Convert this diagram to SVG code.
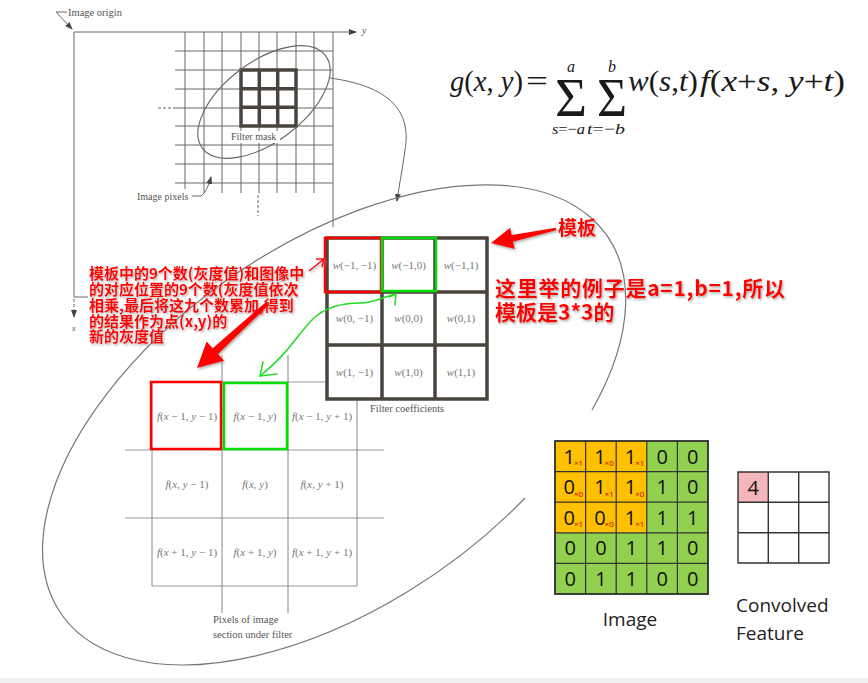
<svg xmlns="http://www.w3.org/2000/svg" width="868" height="683" viewBox="0 0 868 683">
<defs>
<style>
.bk{font-family:"Liberation Serif",serif;fill:#555}
.ln{stroke:#666;stroke-width:1;fill:none}
.lg{stroke:#9a9a9a;stroke-width:1.2;fill:none}
.it{font-style:italic}
.red{font-family:"Noto Sans CJK SC","Noto Sans",sans-serif;font-weight:bold;fill:#ff0000}
.wl{font-family:"Liberation Serif",serif;font-size:11px;fill:#777;text-anchor:middle}
.fl{font-family:"Liberation Serif",serif;font-size:11px;fill:#777;text-anchor:middle}
.num{font-family:"Open Sans","Liberation Sans",sans-serif;font-size:20px;fill:#111;text-anchor:middle}
.sub{font-family:"Open Sans","Liberation Sans",sans-serif;font-size:8px;fill:#c00000}
.lab{font-family:"Open Sans","Liberation Sans",sans-serif;font-size:19px;fill:#222}
.thick{stroke:#49443e;stroke-width:3.5;fill:none}
</style>
<marker id="ab" markerUnits="userSpaceOnUse" markerWidth="8" markerHeight="6" refX="7" refY="3" orient="auto"><path d="M0,0 L8,3 L0,6 z" fill="#444"/></marker>
<filter id="sh" x="-10%" y="-10%" width="120%" height="130%"><feDropShadow dx="1.2" dy="1.5" stdDeviation="0.9" flood-color="#888" flood-opacity="0.7"/></filter>
</defs>
<rect width="868" height="683" fill="#fff"/>
<rect y="678" width="868" height="5" fill="#f1f1f1"/>

<g id="image-frame">
<path class="ln" d="M74,32 H356" marker-end="url(#ab)"/>
<text class="bk it" x="362" y="34" font-size="10">y</text>
<path class="ln" d="M74,32 V297 H88"/>
<path class="ln" d="M333,32 V260"/>
<path class="ln" d="M74,299 V317" stroke-dasharray="3,2" marker-end="url(#ab)"/>
<text class="bk it" x="72" y="331" font-size="8">x</text>
<path class="ln" d="M67,12 H56 L72,29" marker-end="url(#ab)"/>
<text class="bk" x="68" y="16" font-size="10.5">Image origin</text>
</g>

<g id="image-pixels">
<path class="ln" d="M185,32V193M204,32V193M222,32V193M241,32V193M259,32V193M277,32V193M296,32V193M314,32V193M175,51H333M175,70H333M175,89H333M175,108H333M175,126H333M175,145H333M175,164H333M175,183H333"/>
<path class="ln" d="M158,108H175M258,195V216" stroke-dasharray="3,2"/>
<rect x="136" y="189" width="55" height="13" fill="#fff"/>
<text class="bk" x="137" y="200" font-size="10">Image pixels</text>
<path class="ln" d="M192,196 H201 Q207,192 211,177" marker-end="url(#ab)"/>
</g>

<g id="filter-mask">
<rect x="241" y="70" width="55" height="56" fill="#fff"/>
<path class="thick" d="M241,70H296V126H241Z M259.3,70V126 M277.7,70V126 M241,88.7H296 M241,107.3H296"/>
<ellipse cx="264" cy="102" rx="77" ry="40" transform="rotate(-37 264 102)" fill="none" stroke="#666" stroke-width="1.1"/>
<rect x="230" y="131" width="50" height="12" fill="#fff"/>
<text class="bk" x="231" y="140" font-size="10">Filter mask</text>
</g>

<g id="connectors">
<path class="ln" d="M330,78 C388,86 412,110 405,150 C402,172 399,186 397,201" marker-end="url(#ab)"/>
</g>

<g id="zoom-ellipse">
<ellipse cx="333" cy="432" rx="332" ry="180" transform="rotate(-34.7 333 432)" fill="#fff"/>
<path d="M525,498 A332,180 -34.7 1 1 592,410" fill="none" stroke="#777" stroke-width="1.2"/>
</g>

<g id="formula" font-family="'Liberation Serif',serif" fill="#1a1a1a">
<text x="450" y="91" font-size="29" textLength="73" lengthAdjust="spacingAndGlyphs"><tspan font-style="italic">g</tspan>(<tspan font-style="italic">x</tspan>, <tspan font-style="italic">y</tspan>)</text>
<text x="526" y="91" font-size="29" textLength="22" lengthAdjust="spacingAndGlyphs">=</text>
<text x="555" y="116" font-size="55" textLength="32" lengthAdjust="spacingAndGlyphs">Σ</text>
<text x="597" y="116" font-size="55" textLength="30" lengthAdjust="spacingAndGlyphs">Σ</text>
<text x="571" y="72" font-size="16" font-style="italic" text-anchor="middle">a</text>
<text x="612" y="72" font-size="16" font-style="italic" text-anchor="middle">b</text>
<text x="552" y="134" font-size="15" textLength="33" lengthAdjust="spacingAndGlyphs"><tspan font-style="italic">s</tspan>=−<tspan font-style="italic">a</tspan></text>
<text x="587" y="134" font-size="15" textLength="38" lengthAdjust="spacingAndGlyphs"><tspan font-style="italic">t</tspan>=−<tspan font-style="italic">b</tspan></text>
<text x="628" y="91" font-size="29" textLength="70" lengthAdjust="spacingAndGlyphs"><tspan font-style="italic">w</tspan>(<tspan font-style="italic">s</tspan>,<tspan font-style="italic">t</tspan>)</text>
<text x="700" y="91" font-size="29" textLength="145" lengthAdjust="spacingAndGlyphs"><tspan font-style="italic">f</tspan>(<tspan font-style="italic">x</tspan>+<tspan font-style="italic">s</tspan>, <tspan font-style="italic">y</tspan>+<tspan font-style="italic">t</tspan>)</text>
</g>

<g id="image-section">
<path class="lg" d="M152,382H357M125,450H384M125,518H384M152,586H357M152,382V586M357,382V586M222,355V613M288,355V613"/>
<text class="fl" x="187" y="420"><tspan class="it">f</tspan>(<tspan class="it">x</tspan> − 1, <tspan class="it">y</tspan> − 1)</text>
<text class="fl" x="255" y="420"><tspan class="it">f</tspan>(<tspan class="it">x</tspan> − 1, <tspan class="it">y</tspan>)</text>
<text class="fl" x="322" y="420"><tspan class="it">f</tspan>(<tspan class="it">x</tspan> − 1, <tspan class="it">y</tspan> + 1)</text>
<text class="fl" x="187" y="488"><tspan class="it">f</tspan>(<tspan class="it">x</tspan>, <tspan class="it">y</tspan> − 1)</text>
<text class="fl" x="255" y="488"><tspan class="it">f</tspan>(<tspan class="it">x</tspan>, <tspan class="it">y</tspan>)</text>
<text class="fl" x="322" y="488"><tspan class="it">f</tspan>(<tspan class="it">x</tspan>, <tspan class="it">y</tspan> + 1)</text>
<text class="fl" x="187" y="556"><tspan class="it">f</tspan>(<tspan class="it">x</tspan> + 1, <tspan class="it">y</tspan> − 1)</text>
<text class="fl" x="255" y="556"><tspan class="it">f</tspan>(<tspan class="it">x</tspan> + 1, <tspan class="it">y</tspan>)</text>
<text class="fl" x="322" y="556"><tspan class="it">f</tspan>(<tspan class="it">x</tspan> + 1, <tspan class="it">y</tspan> + 1)</text>
<text class="bk" x="213" y="623" font-size="10.5">Pixels of image</text>
<text class="bk" x="213" y="638" font-size="10.5">section under filter</text>
<rect x="151" y="382" width="70" height="67" fill="none" stroke="#ff0000" stroke-width="2.5"/>
<rect x="224" y="383" width="63" height="66" fill="none" stroke="#00dd00" stroke-width="2.5"/>
</g>

<g id="filter-coefficients">
<rect x="327" y="238" width="160" height="161" fill="#fff"/>
<path class="thick" d="M327,238H487V399H327Z M382,238V399 M435,238V399 M327,292H487 M327,345H487"/>
<text class="wl" x="354.5" y="269"><tspan class="it">w</tspan>(−1, −1)</text>
<text class="wl" x="408.5" y="269"><tspan class="it">w</tspan>(−1,0)</text>
<text class="wl" x="461" y="269"><tspan class="it">w</tspan>(−1,1)</text>
<text class="wl" x="354.5" y="322"><tspan class="it">w</tspan>(0, −1)</text>
<text class="wl" x="408.5" y="322"><tspan class="it">w</tspan>(0,0)</text>
<text class="wl" x="461" y="322"><tspan class="it">w</tspan>(0,1)</text>
<text class="wl" x="354.5" y="376"><tspan class="it">w</tspan>(1, −1)</text>
<text class="wl" x="408.5" y="376"><tspan class="it">w</tspan>(1,0)</text>
<text class="wl" x="461" y="376"><tspan class="it">w</tspan>(1,1)</text>
<text class="bk" x="370" y="412" font-size="10.5">Filter coefficients</text>
<rect x="325" y="238" width="56" height="54" fill="none" stroke="#ff0000" stroke-width="2.5"/>
<rect x="382" y="238" width="54" height="53" fill="none" stroke="#00dd00" stroke-width="2.5"/>
</g>

<g id="green-link" fill="none" stroke="#22dd22" stroke-width="1.5" stroke-linecap="round" stroke-linejoin="round">
<path d="M396,294 C382,297 375,303 360,303 C340,303 325,308 314,318 C298,333 290,352 260,376"/>
<path d="M389,297 L396,294 L395,305"/>
<path d="M263,362 L260,376 L277,374"/>
</g>

<g id="red-notes" filter="url(#sh)">
<text class="red" font-size="15"><tspan x="89" y="279">模板中的9个数(灰度值)和图像中</tspan><tspan x="89" y="295">的对应位置的9个数(灰度值依次</tspan><tspan x="89" y="311">相乘,最后将这九个数累加,得到</tspan><tspan x="89" y="326.5">的结果作为点(x,y)的</tspan><tspan x="89" y="342">新的灰度值</tspan></text>
<polygon points="197,368 206.6,341.5 212.7,348.2 266.6,301.5 269.4,304.5 218.1,354 224.2,360.7" fill="#ff0000"/>
<path d="M309,271 L324,259 M316,259 L324,259 L322,267" fill="none" stroke="#ff0000" stroke-width="1.6"/>
<text class="red" x="558" y="235" font-size="19">模板</text>
<polygon points="491,243 510.2,227.7 511.8,235 555.7,227.8 556.3,230.2 513.2,241.8 514.8,249.1" fill="#ff0000"/>
<text class="red" font-size="21"><tspan x="495" y="296" textLength="290" lengthAdjust="spacing">这里举的例子是a=1,b=1,所以</tspan><tspan x="495" y="319.5">模板是3*3的</tspan></text>
</g>

<g id="conv-image">
<rect x="555" y="441" width="153" height="153" fill="#92d050"/>
<rect x="555" y="441" width="91.8" height="91.8" fill="#ffc000"/>
<path d="M585.6,441V594M616.2,441V594M646.8,441V594M677.4,441V594M555,471.6H708M555,502.2H708M555,532.8H708M555,563.4H708" stroke="#333" stroke-width="1.2" fill="none"/>
<rect x="555" y="441" width="153" height="153" fill="none" stroke="#2e2e2e" stroke-width="1.8"/>
<text class="num" x="569.3" y="463.5">1</text><text class="num" x="599.9" y="463.5">1</text><text class="num" x="630.5" y="463.5">1</text><text class="num" x="662.1" y="463.5">0</text><text class="num" x="692.7" y="463.5">0</text>
<text class="num" x="569.3" y="494">0</text><text class="num" x="599.9" y="494">1</text><text class="num" x="630.5" y="494">1</text><text class="num" x="662.1" y="494">1</text><text class="num" x="692.7" y="494">0</text>
<text class="num" x="569.3" y="524.6">0</text><text class="num" x="599.9" y="524.6">0</text><text class="num" x="630.5" y="524.6">1</text><text class="num" x="662.1" y="524.6">1</text><text class="num" x="692.7" y="524.6">1</text>
<text class="num" x="570.3" y="555.2">0</text><text class="num" x="600.9" y="555.2">0</text><text class="num" x="631.5" y="555.2">1</text><text class="num" x="662.1" y="555.2">1</text><text class="num" x="692.7" y="555.2">0</text>
<text class="num" x="570.3" y="585.8">0</text><text class="num" x="600.9" y="585.8">1</text><text class="num" x="631.5" y="585.8">1</text><text class="num" x="662.1" y="585.8">0</text><text class="num" x="692.7" y="585.8">0</text>
<text class="sub" x="574" y="466">×1</text><text class="sub" x="604.6" y="466">×0</text><text class="sub" x="635.2" y="466">×1</text>
<text class="sub" x="574" y="496.6">×0</text><text class="sub" x="604.6" y="496.6">×1</text><text class="sub" x="635.2" y="496.6">×0</text>
<text class="sub" x="574" y="527.2">×1</text><text class="sub" x="604.6" y="527.2">×0</text><text class="sub" x="635.2" y="527.2">×1</text>
<text class="lab" x="630" y="626" text-anchor="middle">Image</text>
</g>

<g id="conv-feature">
<rect x="738" y="472" width="30.3" height="30.3" fill="#f4b6bb"/>
<path d="M738,472H829V563H738Z M768.3,472V563 M798.7,472V563 M738,502.3H829 M738,532.7H829" stroke="#333" stroke-width="1.4" fill="none"/>
<text class="num" x="753.2" y="494.5">4</text>
<text class="lab" x="736" y="612">Convolved</text>
<text class="lab" x="736" y="640">Feature</text>
</g>
</svg>
